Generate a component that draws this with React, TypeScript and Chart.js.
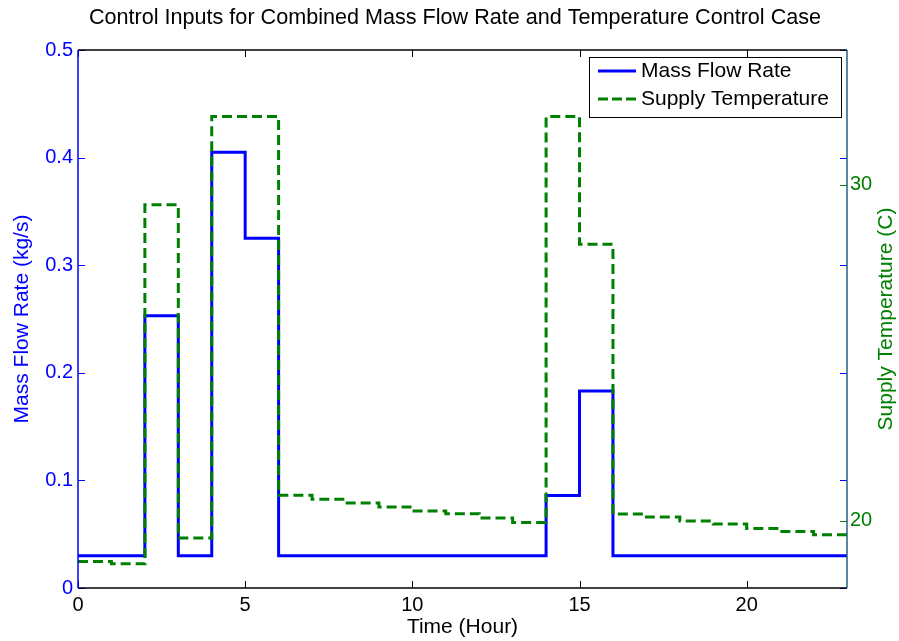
import React, { useEffect, useRef } from 'react';
import { Chart, registerables } from 'chart.js';

Chart.register(...registerables);

// ---- data ----
const hours = [0, 1, 2, 3, 4, 5, 6, 7, 8, 9, 10, 11, 12, 13, 14, 15, 16, 17, 18, 19, 20, 21, 22, 23];
const massFlowRate = [0.03, 0.03, 0.253, 0.03, 0.405, 0.325, 0.03, 0.03, 0.03, 0.03, 0.03, 0.03, 0.03, 0.03, 0.086, 0.183, 0.03, 0.03, 0.03, 0.03, 0.03, 0.03, 0.03, 0.03];
const supplyTemperature = [18.79, 18.72, 29.4, 19.49, 32.02, 32.02, 20.76, 20.64, 20.53, 20.41, 20.29, 20.21, 20.08, 19.95, 32.02, 28.22, 20.2, 20.11, 19.99, 19.9, 19.77, 19.68, 19.58, 19.58];
const xTicks = [0, 5, 10, 15, 20];
const leftTicks = [0, 0.1, 0.2, 0.3, 0.4, 0.5];
const rightTicks = [20, 30];
const chartTitle = 'Control Inputs for Combined Mass Flow Rate and Temperature Control Case';
const xTitle = 'Time (Hour)';
const leftTitle = 'Mass Flow Rate (kg/s)';
const rightTitle = 'Supply Temperature (C)';
const legendLabels = ['Mass Flow Rate', 'Supply Temperature'];

const BLUE = '#0000ff';
const GREEN = '#008000';
const RIGHT_AXIS = '#22607f';
const FONT = '"Liberation Sans", Arial, Helvetica, sans-serif';
const FS = 20;
const LFS = 21;

const decor = {
  id: 'decor',
  afterDraw(chart: any) {
    const { ctx, chartArea: a, scales } = chart;
    const x = scales.x;
    const yl = scales.y;
    const yr = scales.y1;
    const TL = 7;
    const seg = (x1: number, y1: number, x2: number, y2: number) => {
      ctx.beginPath();
      ctx.moveTo(x1, y1);
      ctx.lineTo(x2, y2);
      ctx.stroke();
    };
    ctx.save();
    ctx.lineWidth = 1;
    ctx.strokeStyle = '#000';
    xTicks.forEach((v) => {
      const px = Math.round(x.getPixelForValue(v)) + 0.5;
      seg(px, a.bottom, px, a.bottom - TL);
      seg(px, a.top, px, a.top + TL);
    });
    ctx.strokeStyle = BLUE;
    leftTicks.forEach((v) => {
      const py = Math.round(yl.getPixelForValue(v)) + 0.5;
      seg(a.left, py, a.left + TL, py);
      seg(a.right, py, a.right - TL, py);
    });
    ctx.strokeStyle = GREEN;
    rightTicks.forEach((v) => {
      const py = Math.round(yr.getPixelForValue(v)) + 0.5;
      seg(a.right - TL, py, a.right, py);
    });
    // borders
    ctx.lineWidth = 1.5;
    ctx.strokeStyle = '#000';
    seg(a.left, a.top, a.right, a.top);
    seg(a.left, a.bottom, a.right, a.bottom);
    ctx.strokeStyle = BLUE;
    seg(a.left, a.top, a.left, a.bottom);
    ctx.strokeStyle = RIGHT_AXIS;
    seg(a.right, a.top, a.right, a.bottom);

    // chart title
    ctx.fillStyle = '#000';
    ctx.font = `21.6px ${FONT}`;
    ctx.textAlign = 'center';
    ctx.textBaseline = 'middle';
    ctx.fillText(chartTitle, 455, 18);

    // right axis title (reads bottom to top)
    ctx.save();
    ctx.translate(886, (a.top + a.bottom) / 2);
    ctx.rotate(-Math.PI / 2);
    ctx.fillStyle = GREEN;
    ctx.font = `${LFS}px ${FONT}`;
    ctx.fillText(rightTitle, 0, 0);
    ctx.restore();

    // legend
    const lx = 589, ly = 57, lw = 252, lh = 60;
    ctx.fillStyle = '#fff';
    ctx.fillRect(lx, ly, lw, lh);
    ctx.lineWidth = 1;
    ctx.strokeStyle = '#000';
    ctx.strokeRect(lx + 0.5, ly + 0.5, lw, lh);
    const rows = [ly + 14, ly + 42];
    ctx.lineWidth = 3;
    ctx.strokeStyle = BLUE;
    ctx.setLineDash([]);
    seg(598, rows[0], 636, rows[0]);
    ctx.strokeStyle = GREEN;
    ctx.setLineDash([10, 4]);
    seg(598, rows[1], 636, rows[1]);
    ctx.setLineDash([]);
    ctx.fillStyle = '#000';
    ctx.font = `${LFS}px ${FONT}`;
    ctx.textAlign = 'left';
    ctx.textBaseline = 'middle';
    ctx.fillText(legendLabels[0], 641, rows[0]);
    ctx.fillText(legendLabels[1], 641, rows[1]);
    ctx.restore();
  },
};

export default function App() {
  const ref = useRef<HTMLCanvasElement>(null);
  useEffect(() => {
    if (!ref.current) return;
    Chart.defaults.font.family = FONT;
    const chart = new Chart(ref.current, {
      type: 'line',
      data: {
        datasets: [
          {
            label: legendLabels[0],
            data: hours.map((h, i) => ({ x: h, y: massFlowRate[i] })),
            borderColor: BLUE,
            backgroundColor: BLUE,
            borderWidth: 3,
            pointRadius: 0,
            stepped: 'before',
            yAxisID: 'y',
            order: 2,
          },
          {
            label: legendLabels[1],
            data: hours.map((h, i) => ({ x: h, y: supplyTemperature[i] })),
            borderColor: GREEN,
            backgroundColor: GREEN,
            borderWidth: 3,
            borderDash: [10, 5],
            pointRadius: 0,
            stepped: 'before',
            yAxisID: 'y1',
            order: 1,
          },
        ],
      },
      options: {
        animation: false,
        responsive: false,
        maintainAspectRatio: false,
        layout: { padding: { top: 50, left: 0, right: 0, bottom: 0 } },
        plugins: {
          legend: { display: false },
          title: { display: false },
          tooltip: { enabled: false },
        },
        scales: {
          x: {
            type: 'linear',
            min: 0,
            max: 23,
            grid: { display: false, drawTicks: false },
            border: { display: false },
            ticks: { color: '#000', font: { size: FS }, padding: 5, maxRotation: 0 },
            afterBuildTicks: (s: any) => { s.ticks = xTicks.map((v) => ({ value: v })); },
            afterFit: (s: any) => { s.height = 53; },
            title: { display: true, text: xTitle, color: '#000', font: { size: LFS }, padding: { top: 0, bottom: 1 } },
          },
          y: {
            type: 'linear',
            position: 'left',
            min: 0,
            max: 0.5,
            grid: { display: false, drawTicks: false },
            border: { display: false },
            ticks: { color: BLUE, font: { size: FS }, padding: 5, callback: (v: any) => (v === 0 ? '0' : Number(v).toFixed(1)) },
            afterBuildTicks: (s: any) => { s.ticks = leftTicks.map((v) => ({ value: v })); },
            afterFit: (s: any) => { s.width = 78; },
            title: { display: true, text: leftTitle, color: BLUE, font: { size: LFS }, padding: { top: 10, bottom: 0 } },
          },
          y1: {
            type: 'linear',
            position: 'right',
            min: 18,
            max: 34,
            grid: { display: false, drawTicks: false },
            border: { display: false },
            ticks: { color: GREEN, font: { size: FS }, padding: 3 },
            afterBuildTicks: (s: any) => { s.ticks = rightTicks.map((v) => ({ value: v })); },
            afterFit: (s: any) => { s.width = 52; },
          },
        },
      },
      plugins: [decor],
    } as any);
    return () => chart.destroy();
  }, []);
  return (
    <div style={{ position: 'fixed', left: 0, top: 0, width: 899, height: 641, background: '#fff' }}>
      <canvas ref={ref} width={899} height={641} style={{ width: 899, height: 641 }} />
    </div>
  );
}
